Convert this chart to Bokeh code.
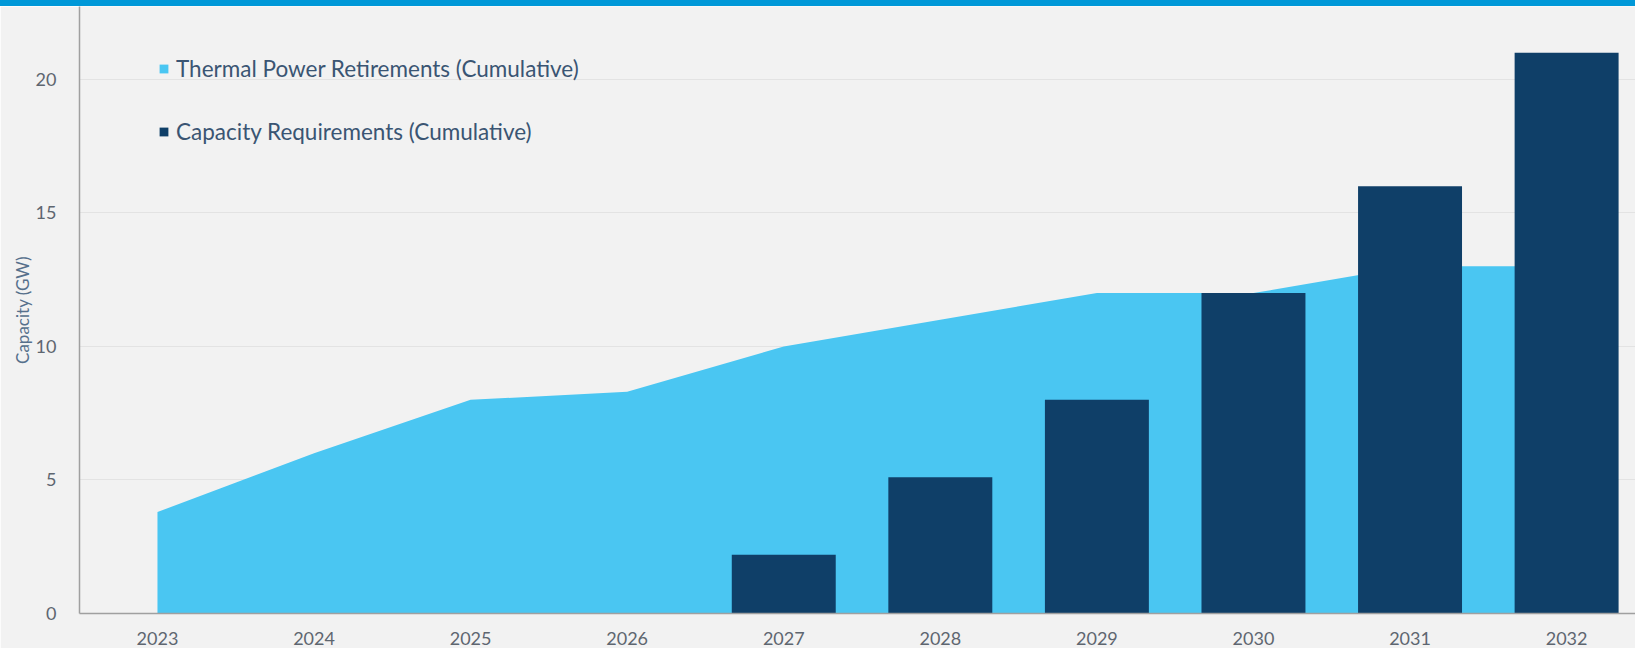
from bokeh.plotting import figure
from bokeh.models import Range1d, FixedTicker, Legend, LegendItem, Div, ColumnDataSource
from bokeh.layouts import column
from bokeh.embed import file_html
from bokeh.resources import INLINE

# ---- data ----
years = [2023, 2024, 2025, 2026, 2027, 2028, 2029, 2030, 2031, 2032]
tick_labels = ["2023", "2024", "2025", "2026", "2027", "2028", "2029", "2030", "2031", "2032"]
thermal_retirements = [3.8, 6.0, 8.0, 8.3, 10.0, 11.0, 12.0, 12.0, 13.0, 13.0]
capacity_requirements = [0, 0, 0, 0, 2.2, 5.1, 8.0, 12.0, 16.0, 21.0]
y_ticks = [0, 5, 10, 15, 20]
series_names = ["Thermal Power Retirements (Cumulative)", "Capacity Requirements (Cumulative)"]

LIGHT = "#4AC6F2"
DARK = "#0F3F68"
BG = "#F2F2F2"
FONT = "Lato"

src = ColumnDataSource(dict(x=years, thermal=thermal_retirements, cap=capacity_requirements))

p = figure(width=1635, height=642, output_backend="svg", toolbar_location=None,
           x_range=Range1d(2022.502, 2032.44), y_range=Range1d(0, 22.73),
           min_border_left=79, min_border_right=0, min_border_top=0, min_border_bottom=35)
p.background_fill_color = BG
p.border_fill_color = BG
p.outline_line_color = None

area = p.varea(x="x", y1=0, y2="thermal", source=src, fill_color=LIGHT)
bars = p.vbar(x="x", top="cap", width=0.664, source=src, fill_color=DARK, line_color=None)

# axes
p.xaxis.ticker = FixedTicker(ticks=years)
p.xaxis.major_label_overrides = {y: t for y, t in zip(years, tick_labels)}
p.yaxis.ticker = FixedTicker(ticks=y_ticks)
for ax in (p.xaxis[0], p.yaxis[0]):
    ax.axis_line_color = "#A0A0A0"
    ax.axis_line_width = 1.5
    ax.major_tick_line_color = None
    ax.minor_tick_line_color = None
    ax.major_label_text_font = FONT
    ax.major_label_text_font_size = "18px"
    ax.major_label_text_color = "#5E6670"
p.xaxis.major_label_standoff = 12
p.yaxis.major_label_standoff = 17
p.yaxis.axis_label = "Capacity (GW)"
p.yaxis.axis_label_text_font = FONT
p.yaxis.axis_label_text_font_size = "17px"
p.yaxis.axis_label_text_font_style = "normal"
p.yaxis.axis_label_text_color = "#56708C"
p.yaxis.axis_label_standoff = 0

p.xgrid.grid_line_color = None
p.ygrid.ticker = FixedTicker(ticks=y_ticks)
p.ygrid.grid_line_color = "#E3E3E3"
p.ygrid.grid_line_width = 1

legend = Legend(items=[LegendItem(label=series_names[0], renderers=[area]),
                       LegendItem(label=series_names[1], renderers=[bars])],
                location=(79, 468), orientation="vertical")
legend.padding = 0
legend.margin = 0
legend.spacing = 36
legend.glyph_width = 11
legend.glyph_height = 11
legend.label_height = 26
legend.label_standoff = 7
legend.label_text_font = FONT
legend.label_text_font_size = "22.5px"
legend.label_text_color = "#3A5573"
legend.border_line_color = None
legend.background_fill_alpha = 0
p.add_layout(legend)

band = Div(text="", width=1635, height=6, margin=(0, 0, 0, 0),
           styles={"background-color": "#0098D8"})
layout = column(band, p, spacing=0, margin=(0, 0, 0, 0))

open("out.html", "w").write(file_html(layout, INLINE))
